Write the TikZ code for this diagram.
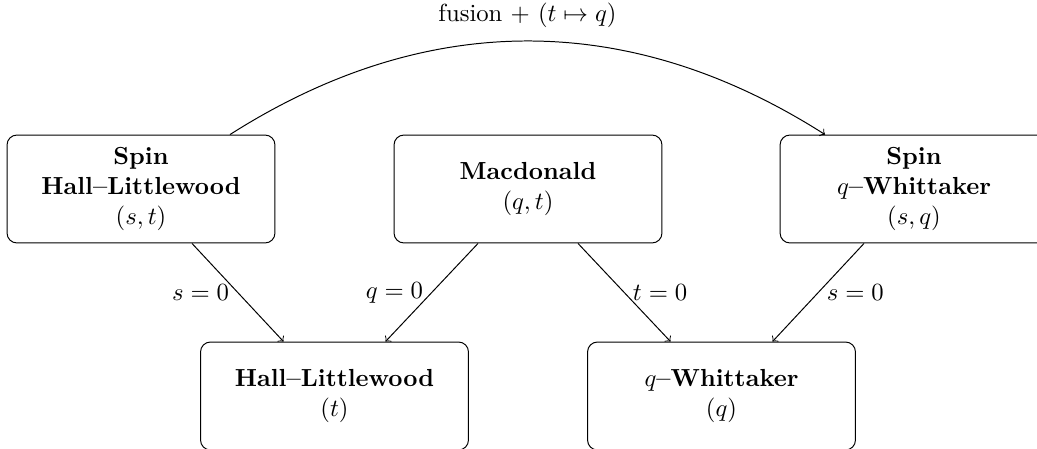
\documentclass[tikz,border=0pt]{standalone}
\usetikzlibrary{calc}
\begin{document}
\begin{tikzpicture}[x=0.405pt,y=-0.405pt,
  box/.style={draw, rounded corners=4pt, minimum width=108.5pt, minimum height=43.7pt, align=center, inner sep=0pt},
  conn/.style={->},
  lab/.style={inner sep=3.33pt}]
\useasboundingbox (0,0) rectangle (1037,448);
\node[box] (tl) at (141,189) {\textbf{Spin}\\ \textbf{Hall--Littlewood}\\ $(s,t)$};
\node[box] (mac) at (528,189) {\textbf{Macdonald}\\ $(q,t)$};
\node[box] (tr) at (914,189) {\textbf{Spin}\\ \textbf{$q$--Whittaker}\\ $(s,q)$};
\node[box] (hl) at (334.5,396) {\textbf{Hall--Littlewood}\\ $(t)$};
\node[box] (qw) at (721.5,396) {\textbf{$q$--Whittaker}\\ $(q)$};
\draw[conn] ($(tl.south)+(51,0)$) -- ($(hl.north)+(-51,0)$) node[lab, midway, left] {$s=0$};
\draw[conn] ($(mac.south)+(-50,0)$) -- ($(hl.north)+(51,0)$) node[lab, midway, left] {$q=0$};
\draw[conn] ($(mac.south)+(50,0)$) -- ($(qw.north)+(-51,0)$) node[lab, midway, right] {$t=0$};
\draw[conn] ($(tr.south)+(-50,0)$) -- ($(qw.north)+(51,0)$) node[lab, midway, right] {$s=0$};
\draw[conn] ($(tl.north)+(89,0)$) to[bend left=32.5] node[midway, anchor=base, yshift=8pt] {fusion $+$ $(t\mapsto q)$} ($(tr.north)+(-89,0)$);
\end{tikzpicture}
\end{document}
